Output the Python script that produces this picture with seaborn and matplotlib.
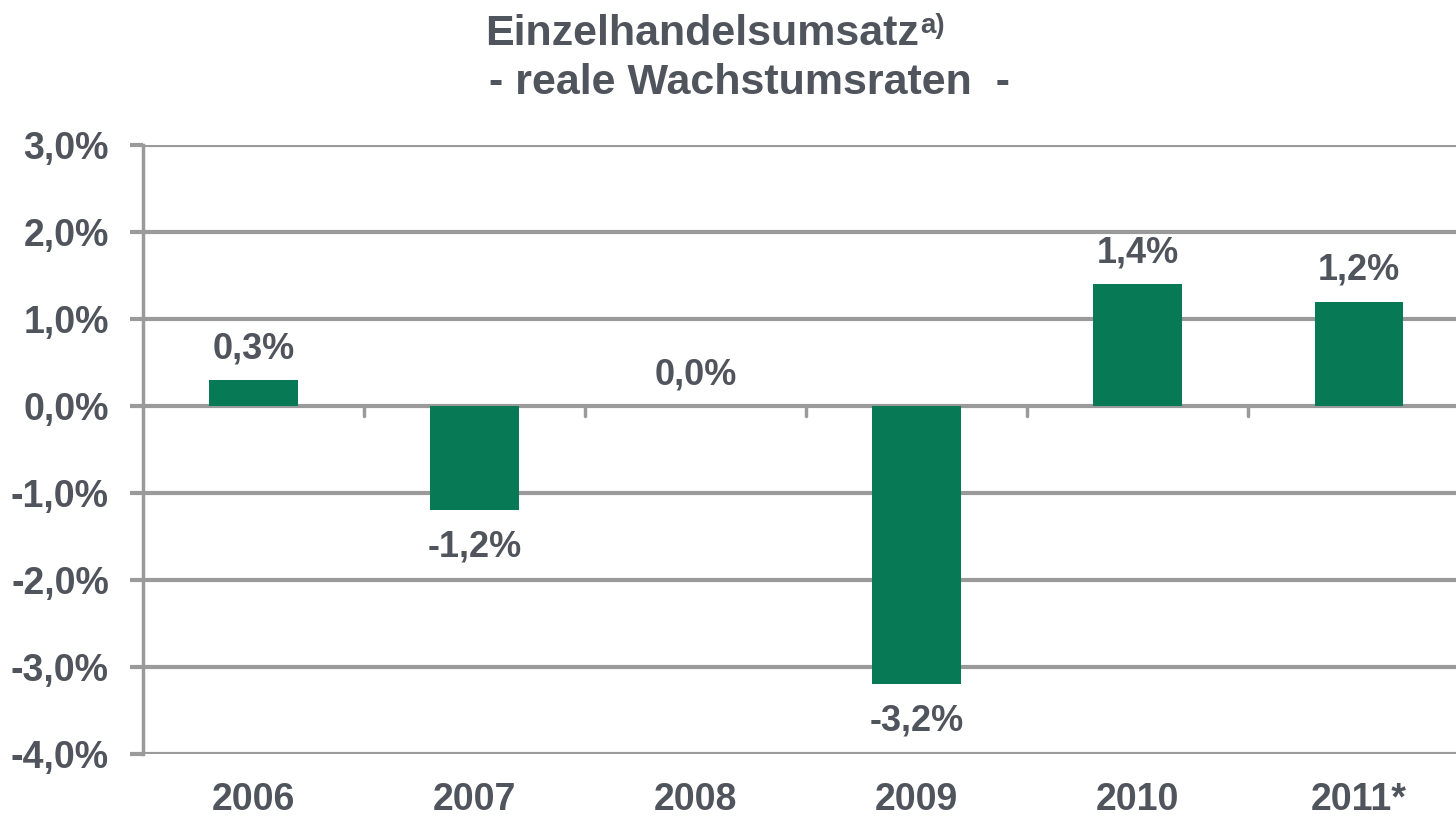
import matplotlib
matplotlib.use("Agg")
import matplotlib.pyplot as plt
import seaborn as sns
import pandas as pd

years = ["2006", "2007", "2008", "2009", "2010", "2011*"]
growth = [0.3, -1.2, 0.0, -3.2, 1.4, 1.2]
yticks = [3, 2, 1, 0, -1, -2, -3, -4]

sns.set_theme(style="white")
plt.rcParams["font.family"] = ["Liberation Sans", "DejaVu Sans"]

txt = "#50545c"
grid = "#9a9a9a"
green = "#077a55"

df = pd.DataFrame({"year": years, "growth": growth})

fig = plt.figure(figsize=(14.56, 8.17), dpi=100)
ax = fig.add_axes([143 / 1456, 1 - 754 / 817, (1456 - 143) / 1456, (754 - 145) / 817])

sns.barplot(data=df, x="year", y="growth", color=green, width=0.4,
            saturation=1, linewidth=0, ax=ax, zorder=3)

ax.set_ylim(-4, 3)
ax.set_xlim(-0.5, 5.44)
ax.set_yticks(yticks)
ax.set_yticklabels([f"{v:.1f}%".replace(".", ",") for v in yticks])
for v in yticks:
    ax.axhline(v, color=grid, lw=3, zorder=1)
for s in ["top", "right", "bottom"]:
    ax.spines[s].set_visible(False)
ax.spines["left"].set_color(grid)
ax.spines["left"].set_linewidth(2.5)

ax.tick_params(axis="y", left=True, length=9.5, width=3, color=grid, pad=15,
               labelsize=27, labelcolor=txt)
ax.tick_params(axis="x", bottom=False, length=0, pad=20, labelsize=27,
               labelcolor=txt)
for lab in ax.get_yticklabels() + ax.get_xticklabels():
    lab.set_fontweight("bold")
ax.set_xlabel("")
ax.set_ylabel("")

# small category separators on the zero line
for b in range(5):
    ax.plot([b + 0.5, b + 0.5], [0, -0.12], color=grid, lw=2.5, zorder=2)

for i, v in enumerate(growth):
    lab = f"{v:.1f}%".replace(".", ",")
    if v >= 0:
        ax.annotate(lab, (i, v), xytext=(0, 10), textcoords="offset points",
                    ha="center", va="bottom", fontsize=26, fontweight="bold",
                    color=txt)
    else:
        ax.annotate(lab, (i, v), xytext=(0, -14), textcoords="offset points",
                    ha="center", va="top", fontsize=26, fontweight="bold",
                    color=txt)

t1 = fig.text(702 / 1456, 1 - 34 / 817, "Einzelhandelsumsatz", ha="center",
              va="center", fontsize=31, fontweight="bold", color=txt)
fig.canvas.draw()
bb = t1.get_window_extent()
fig.text(bb.x1 / 1456 + 0.001, 1 - 26 / 817, "a)", ha="left", va="center",
         fontsize=20, fontweight="bold", color=txt)
fig.text(750 / 1456, 1 - 83 / 817, "- reale Wachstumsraten  -", ha="center",
         va="center", fontsize=31, fontweight="bold", color=txt)

fig.savefig("out.png", dpi=100)
